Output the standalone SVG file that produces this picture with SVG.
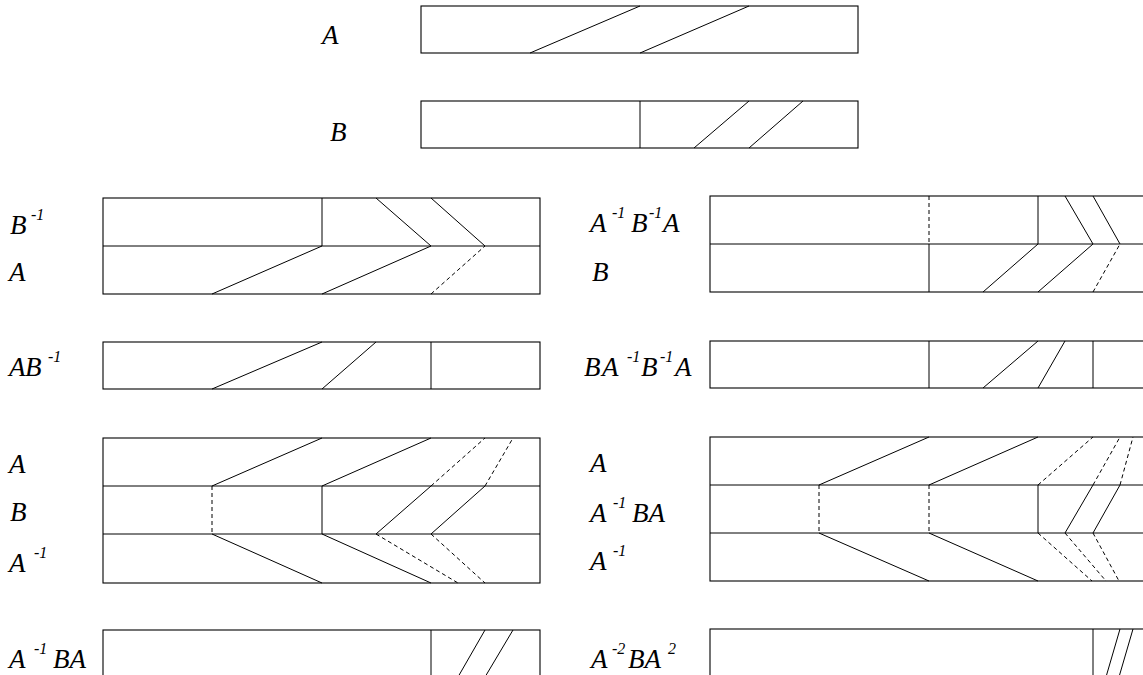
<svg xmlns="http://www.w3.org/2000/svg" width="1143" height="675" viewBox="0 0 1143 675">
<style>
.lbl{font-family:"Liberation Serif","DejaVu Serif","Times New Roman",serif;font-style:italic;font-size:27px;fill:#000}
.sup{font-size:16px}
.box{fill:none;stroke:#000;stroke-width:1.1}
.ln{stroke:#000;stroke-width:1;fill:none}
.ds{stroke:#000;stroke-width:1;fill:none;stroke-dasharray:4,3}
</style>
<rect width="1143" height="675" fill="#fff"/>

<g id="labels">
<text class="lbl" x="322" y="44">A</text>
<text class="lbl" x="330" y="141">B</text>

<text class="lbl" x="10" y="234">B<tspan class="sup" x="31" y="220">-1</tspan></text>
<text class="lbl" x="9" y="281">A</text>
<text class="lbl" x="9" y="376">A<tspan x="25" y="376">B</tspan><tspan class="sup" x="48" y="362">-1</tspan></text>
<text class="lbl" x="9" y="473">A</text>
<text class="lbl" x="10" y="521">B</text>
<text class="lbl" x="9" y="572">A<tspan class="sup" x="34" y="558">-1</tspan></text>
<text class="lbl" x="9" y="668">A<tspan class="sup" x="34" y="654">-1</tspan><tspan x="53" y="668">BA</tspan></text>

<text class="lbl" x="590" y="232">A<tspan class="sup" x="612" y="218">-1</tspan><tspan x="631" y="232">B</tspan><tspan class="sup" x="649" y="218">-1</tspan><tspan x="663" y="232">A</tspan></text>
<text class="lbl" x="592" y="281">B</text>
<text class="lbl" x="584" y="376">B<tspan x="602" y="376">A</tspan><tspan class="sup" x="627" y="362">-1</tspan><tspan x="641" y="376">B</tspan><tspan class="sup" x="660" y="362">-1</tspan><tspan x="675" y="376">A</tspan></text>
<text class="lbl" x="590" y="472">A</text>
<text class="lbl" x="590" y="522">A<tspan class="sup" x="613" y="508">-1</tspan><tspan x="632" y="522">BA</tspan></text>
<text class="lbl" x="590" y="570">A<tspan class="sup" x="613" y="556">-1</tspan></text>
<text class="lbl" x="591" y="668">A<tspan class="sup" x="612" y="654">-2</tspan><tspan x="628" y="668">BA</tspan><tspan class="sup" x="668" y="654">2</tspan></text>
</g>

<g id="nodeA">
<rect class="box" x="421" y="6" width="437" height="47"/>
<line class="ln" x1="530" y1="53" x2="640" y2="6"/>
<line class="ln" x1="640" y1="53" x2="749" y2="6"/>
</g>

<g id="nodeB">
<rect class="box" x="421" y="101" width="437" height="47"/>
<line class="ln" x1="640" y1="101" x2="640" y2="148"/>
<line class="ln" x1="694" y1="148" x2="749" y2="101"/>
<line class="ln" x1="749" y1="148" x2="803" y2="101"/>
</g>

<g id="nodeBinvA">
<rect class="box" x="103" y="198" width="437" height="96"/>
<line class="ln" x1="103" y1="246" x2="540" y2="246"/>
<line class="ln" x1="322" y1="198" x2="322" y2="246"/>
<line class="ln" x1="376" y1="198" x2="431" y2="246"/>
<line class="ln" x1="431" y1="198" x2="485" y2="246"/>
<line class="ln" x1="212" y1="294" x2="322" y2="246"/>
<line class="ln" x1="322" y1="294" x2="431" y2="246"/>
<line class="ds" x1="431" y1="294" x2="485" y2="246"/>
</g>

<g id="nodeABinv">
<rect class="box" x="103" y="342" width="437" height="47"/>
<line class="ln" x1="212" y1="389" x2="322" y2="342"/>
<line class="ln" x1="322" y1="389" x2="376" y2="342"/>
<line class="ln" x1="431" y1="342" x2="431" y2="389"/>
</g>

<g id="nodeABAinv">
<rect class="box" x="103" y="438" width="437" height="145"/>
<line class="ln" x1="103" y1="486" x2="540" y2="486"/>
<line class="ln" x1="103" y1="534" x2="540" y2="534"/>
<line class="ln" x1="212" y1="486" x2="322" y2="438"/>
<line class="ln" x1="322" y1="486" x2="431" y2="438"/>
<line class="ds" x1="431" y1="486" x2="485" y2="438"/>
<line class="ds" x1="485" y1="486" x2="513" y2="438"/>
<line class="ds" x1="212" y1="486" x2="212" y2="534"/>
<line class="ln" x1="322" y1="486" x2="322" y2="534"/>
<line class="ln" x1="376" y1="534" x2="431" y2="486"/>
<line class="ln" x1="431" y1="534" x2="485" y2="486"/>
<line class="ln" x1="212" y1="534" x2="322" y2="583"/>
<line class="ln" x1="322" y1="534" x2="431" y2="583"/>
<line class="ds" x1="376" y1="534" x2="458" y2="583"/>
<line class="ds" x1="431" y1="534" x2="485" y2="583"/>
</g>

<g id="nodeAinvBA">
<rect class="box" x="103" y="630" width="437" height="47"/>
<line class="ln" x1="431" y1="630" x2="431" y2="677"/>
<line class="ln" x1="458" y1="677" x2="485" y2="630"/>
<line class="ln" x1="485" y1="677" x2="513" y2="630"/>
</g>

<g id="nodeAinvBinvAB">
<rect class="box" x="710" y="196" width="437" height="96"/>
<line class="ln" x1="710" y1="244" x2="1147" y2="244"/>
<line class="ds" x1="929" y1="196" x2="929" y2="244"/>
<line class="ln" x1="1038" y1="196" x2="1038" y2="244"/>
<line class="ln" x1="1065" y1="196" x2="1093" y2="244"/>
<line class="ln" x1="1093" y1="196" x2="1120" y2="244"/>
<line class="ln" x1="929" y1="244" x2="929" y2="292"/>
<line class="ln" x1="983" y1="292" x2="1038" y2="244"/>
<line class="ln" x1="1038" y1="292" x2="1093" y2="244"/>
<line class="ds" x1="1093" y1="292" x2="1120" y2="244"/>
</g>

<g id="nodeBAinvBinvA">
<rect class="box" x="710" y="341" width="437" height="47"/>
<line class="ln" x1="929" y1="341" x2="929" y2="388"/>
<line class="ln" x1="983" y1="388" x2="1038" y2="341"/>
<line class="ln" x1="1038" y1="388" x2="1065" y2="341"/>
<line class="ln" x1="1093" y1="341" x2="1093" y2="388"/>
</g>

<g id="nodeAAinvBAAinv">
<rect class="box" x="710" y="437" width="437" height="144"/>
<line class="ln" x1="710" y1="485" x2="1147" y2="485"/>
<line class="ln" x1="710" y1="533" x2="1147" y2="533"/>
<line class="ln" x1="819" y1="485" x2="929" y2="437"/>
<line class="ln" x1="929" y1="485" x2="1038" y2="437"/>
<line class="ds" x1="1038" y1="485" x2="1093" y2="437"/>
<line class="ds" x1="1093" y1="485" x2="1120" y2="437"/>
<line class="ds" x1="1120" y1="485" x2="1133" y2="437"/>
<line class="ds" x1="819" y1="485" x2="819" y2="533"/>
<line class="ds" x1="929" y1="485" x2="929" y2="533"/>
<line class="ln" x1="1038" y1="485" x2="1038" y2="533"/>
<line class="ln" x1="1065" y1="533" x2="1093" y2="485"/>
<line class="ln" x1="1093" y1="533" x2="1120" y2="485"/>
<line class="ln" x1="819" y1="533" x2="929" y2="581"/>
<line class="ln" x1="929" y1="533" x2="1038" y2="581"/>
<line class="ds" x1="1038" y1="533" x2="1092" y2="581"/>
<line class="ds" x1="1065" y1="533" x2="1106" y2="581"/>
<line class="ds" x1="1093" y1="533" x2="1119" y2="581"/>
</g>

<g id="nodeA2BA2">
<rect class="box" x="710" y="629" width="437" height="48"/>
<line class="ln" x1="1093" y1="629" x2="1093" y2="677"/>
<line class="ln" x1="1106" y1="677" x2="1120" y2="629"/>
<line class="ln" x1="1119" y1="677" x2="1133" y2="629"/>
</g>

<g id="connectors"></g>
</svg>
